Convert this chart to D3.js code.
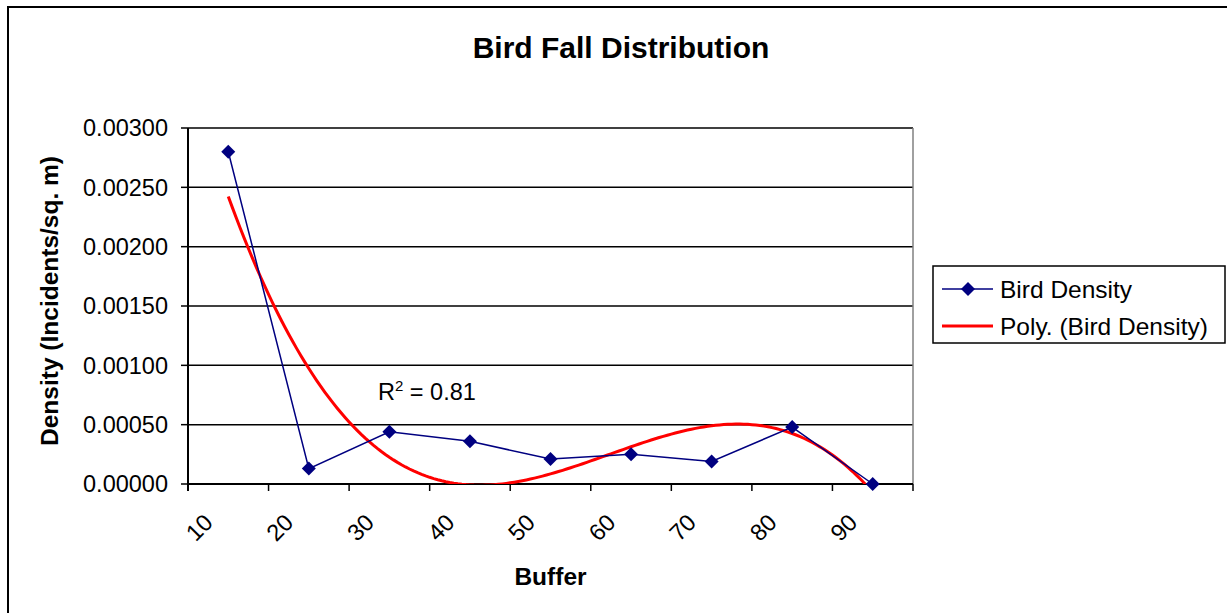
<!DOCTYPE html>
<html lang="en">
  <head>
    <meta charset="UTF-8">
    <title>Bird Fall Distribution</title>
    <style>
    * {
      box-sizing: border-box;
      margin: 0;
      padding: 0;
    }

    body {
      background: #fff;
      overflow: hidden;
    }

    svg {
      display: block;
      font-family: "Liberation Sans", Arial, sans-serif;
    }

    .grid line {
      stroke: #000;
      stroke-width: 1.5px;
    }

    .tick-label {
      fill: #000;
    }
    </style>
  </head>
  <body>
    <svg width="1227" height="613"></svg>
    <script src="https://d3js.org/d3.v7.min.js"></script>
    <script>
      // chart data
      const buffers = ["10", "20", "30", "40", "50", "60", "70", "80", "90"];
      const density = [0.00280, 0.00013, 0.00044, 0.00036, 0.00021, 0.00025, 0.00019, 0.00048, 0.00000];
      const yTicks = [0, 0.0005, 0.001, 0.0015, 0.002, 0.0025, 0.003];
      const polyOrder = 3;
      const r2Label = "0.81";

      const plot = { left: 188, right: 913, top: 128, bottom: 484 };

      const svg = d3.select("svg");

      // outer chart frame (runs off the right and bottom of the picture)
      svg.append("rect")
        .attr("x", 8)
        .attr("y", 7)
        .attr("width", 1240)
        .attr("height", 620)
        .attr("fill", "#fff")
        .attr("stroke", "#000")
        .attr("stroke-width", 2);

      const x = d3.scaleBand()
        .domain(buffers)
        .range([plot.left, plot.right])
        .padding(0);

      const xIdx = d3.scaleLinear()
        .domain([0, buffers.length])
        .range([plot.left, plot.right]);

      const y = d3.scaleLinear()
        .domain([0, 0.003])
        .range([plot.bottom, plot.top]);

      const cx = d => x(d) + x.bandwidth() / 2;

      // gridlines
      svg.append("g")
        .attr("class", "grid")
        .selectAll("line")
        .data(yTicks.slice(1))
        .enter().append("line")
        .attr("x1", plot.left)
        .attr("x2", plot.right)
        .attr("y1", d => y(d))
        .attr("y2", d => y(d));

      // right border of the plot area
      svg.append("line")
        .attr("x1", plot.right)
        .attr("x2", plot.right)
        .attr("y1", plot.top)
        .attr("y2", plot.bottom)
        .attr("stroke", "#808080")
        .attr("stroke-width", 1.5);

      // y axis
      const yAxis = svg.append("g");
      yAxis.append("line")
        .attr("x1", plot.left)
        .attr("x2", plot.left)
        .attr("y1", plot.top)
        .attr("y2", plot.bottom + 7)
        .attr("stroke", "#000")
        .attr("stroke-width", 2);

      yAxis.selectAll(".ytick")
        .data(yTicks)
        .enter().append("line")
        .attr("x1", plot.left - 7)
        .attr("x2", plot.left)
        .attr("y1", d => y(d))
        .attr("y2", d => y(d))
        .attr("stroke", "#000")
        .attr("stroke-width", 1.5);

      yAxis.selectAll(".ylabel")
        .data(yTicks)
        .enter().append("text")
        .attr("class", "tick-label")
        .attr("x", 168)
        .attr("y", d => y(d))
        .attr("dy", "0.35em")
        .attr("text-anchor", "end")
        .style("font-size", "23.5px")
        .text(d => d3.format(".5f")(d));

      // x axis
      const xAxis = svg.append("g");
      xAxis.append("line")
        .attr("x1", plot.left)
        .attr("x2", plot.right)
        .attr("y1", plot.bottom)
        .attr("y2", plot.bottom)
        .attr("stroke", "#000")
        .attr("stroke-width", 2);

      xAxis.selectAll(".xtick")
        .data(d3.range(buffers.length + 1))
        .enter().append("line")
        .attr("x1", d => xIdx(d))
        .attr("x2", d => xIdx(d))
        .attr("y1", plot.bottom)
        .attr("y2", plot.bottom + 7)
        .attr("stroke", "#000")
        .attr("stroke-width", 1.5);

      xAxis.selectAll(".xlabel")
        .data(buffers)
        .enter().append("text")
        .attr("class", "tick-label")
        .attr("text-anchor", "end")
        .attr("transform", d => `translate(${cx(d) - 14},${plot.bottom + 40}) rotate(-45)`)
        .style("font-size", "23.5px")
        .text(d => d);

      // polynomial least-squares fit on index 1..n (as the spreadsheet does)
      function polyFit(ys, order) {
        const n = order + 1;
        const A = [];
        for (let r = 0; r < n; r++) {
          const row = [];
          for (let c = 0; c < n; c++) {
            row.push(d3.sum(ys, (v, i) => Math.pow(i + 1, r + c)));
          }
          row.push(d3.sum(ys, (v, i) => v * Math.pow(i + 1, r)));
          A.push(row);
        }
        for (let k = 0; k < n; k++) {
          let p = k;
          for (let r = k + 1; r < n; r++) if (Math.abs(A[r][k]) > Math.abs(A[p][k])) p = r;
          [A[k], A[p]] = [A[p], A[k]];
          for (let r = 0; r < n; r++) {
            if (r === k) continue;
            const f = A[r][k] / A[k][k];
            for (let c = k; c <= n; c++) A[r][c] -= f * A[k][c];
          }
        }
        return A.map((row, k) => row[n] / row[k]);
      }

      const coef = polyFit(density, polyOrder);
      const polyAt = t => coef.reduce((s, c, k) => s + c * Math.pow(t, k), 0);
      const fitPts = d3.range(1, buffers.length + 0.001, 0.05).map(t => [t, polyAt(t)]);

      svg.append("clipPath")
        .attr("id", "plotClip")
        .append("rect")
        .attr("x", plot.left)
        .attr("y", plot.top)
        .attr("width", plot.right - plot.left)
        .attr("height", plot.bottom - plot.top);

      // trendline
      svg.append("path")
        .datum(fitPts)
        .attr("clip-path", "url(#plotClip)")
        .attr("fill", "none")
        .attr("stroke", "#ff0000")
        .attr("stroke-width", 3)
        .attr("d", d3.line()
          .x(d => xIdx(d[0] - 0.5))
          .y(d => y(d[1])));

      // data series
      svg.append("path")
        .datum(density)
        .attr("fill", "none")
        .attr("stroke", "#000080")
        .attr("stroke-width", 1.5)
        .attr("d", d3.line()
          .x((d, i) => cx(buffers[i]))
          .y(d => y(d)));

      const diamond = d3.symbol().type(d3.symbolDiamond2).size(125);

      svg.selectAll(".pt")
        .data(density)
        .enter().append("path")
        .attr("fill", "#000080")
        .attr("transform", (d, i) => `translate(${cx(buffers[i])},${y(d)})`)
        .attr("d", diamond);

      // R squared label
      const r2 = svg.append("text")
        .attr("x", 378)
        .attr("y", 400)
        .style("font-size", "23.5px");
      r2.append("tspan").text("R");
      r2.append("tspan")
        .attr("dy", -9)
        .style("font-size", "15px")
        .text("2");
      r2.append("tspan")
        .attr("dy", 9)
        .text(" = " + r2Label);

      // titles
      svg.append("text")
        .attr("x", 621)
        .attr("y", 58)
        .attr("text-anchor", "middle")
        .style("font-size", "30px")
        .style("font-weight", "bold")
        .text("Bird Fall Distribution");

      svg.append("text")
        .attr("x", (plot.left + plot.right) / 2)
        .attr("y", 585)
        .attr("text-anchor", "middle")
        .style("font-size", "24.5px")
        .style("font-weight", "bold")
        .text("Buffer");

      svg.append("text")
        .attr("transform", `translate(58,${(plot.top + plot.bottom) / 2 - 5}) rotate(-90)`)
        .attr("text-anchor", "middle")
        .style("font-size", "24.5px")
        .style("font-weight", "bold")
        .text("Density (Incidents/sq. m)");

      // legend
      const legend = svg.append("g");
      legend.append("rect")
        .attr("x", 933)
        .attr("y", 266)
        .attr("width", 292)
        .attr("height", 77)
        .attr("fill", "#fff")
        .attr("stroke", "#000")
        .attr("stroke-width", 1.5);

      const legendItems = [
        { label: "Bird Density", color: "#000080", width: 1.5, marker: true },
        { label: "Poly. (Bird Density)", color: "#ff0000", width: 3, marker: false }
      ];

      const item = legend.selectAll(".item")
        .data(legendItems)
        .enter().append("g")
        .attr("transform", (d, i) => `translate(0,${289 + i * 37})`);

      item.append("line")
        .attr("x1", 942)
        .attr("x2", 993)
        .attr("stroke", d => d.color)
        .attr("stroke-width", d => d.width);

      item.filter(d => d.marker)
        .append("path")
        .attr("transform", "translate(968,0)")
        .attr("fill", d => d.color)
        .attr("d", diamond);

      item.append("text")
        .attr("x", 1000)
        .attr("dy", "0.35em")
        .style("font-size", "24.5px")
        .text(d => d.label);
    </script>
  </body>
</html>
